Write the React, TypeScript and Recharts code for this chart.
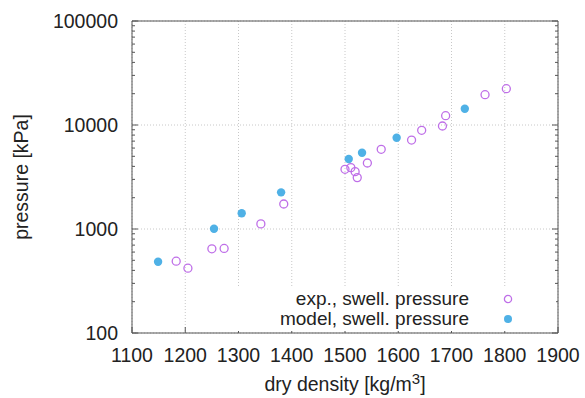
import React from 'react';
import { ScatterChart, Scatter, XAxis, YAxis, CartesianGrid, Legend } from 'recharts';

// measured swelling pressure
const expDensity = [1183, 1205, 1250, 1273, 1342, 1385, 1500, 1511, 1519, 1523, 1542, 1568, 1625, 1644, 1683, 1689, 1763, 1803];
const expPressure = [490, 420, 645, 650, 1120, 1740, 3750, 3890, 3560, 3120, 4310, 5840, 7170, 8890, 9780, 12280, 19560, 22340];

// model prediction
const modelDensity = [1149, 1254, 1306, 1380, 1507, 1532, 1597, 1725];
const modelPressure = [485, 1005, 1415, 2250, 4710, 5415, 7550, 14350];

const densityTicks = [1100, 1200, 1300, 1400, 1500, 1600, 1700, 1800, 1900];
const pressureTicks = [100, 1000, 10000, 100000];
const minorPressureTicks = [
  200, 300, 400, 500, 600, 700, 800, 900,
  2000, 3000, 4000, 5000, 6000, 7000, 8000, 9000,
  20000, 30000, 40000, 50000, 60000, 70000, 80000, 90000,
];

const allPressureTicks = [...pressureTicks, ...minorPressureTicks].sort((a, b) => a - b);

const expData = expDensity.map((d, i) => ({ density: d, pressure: expPressure[i] }));
const modelData = modelDensity.map((d, i) => ({ density: d, pressure: modelPressure[i] }));

const FONT = '"Liberation Sans", Arial, Helvetica, sans-serif';
const FS = 19.5;
const AXIS = '#555';
const PURPLE = '#bf6fe8';
const BLUE = '#4fb1e6';

const isMajor = (v: number) => pressureTicks.includes(v);

const LeftTick = (props: any) => {
  const { x, y, payload } = props;
  const major = isMajor(payload.value);
  return (
    <g>
      <line x1={x} x2={x + (major ? 6 : 3)} y1={y} y2={y} stroke={AXIS} />
      {major && (
        <text x={x - 14} y={y + 7} textAnchor="end" fontSize={FS} fill="#222" fontFamily={FONT}>
          {payload.value}
        </text>
      )}
    </g>
  );
};

const RightTick = (props: any) => {
  const { x, y, payload } = props;
  const major = isMajor(payload.value);
  return <line x1={x} x2={x - (major ? 6 : 3)} y1={y} y2={y} stroke={AXIS} />;
};

const BottomTick = (props: any) => {
  const { x, y, payload } = props;
  return (
    <g>
      <line x1={x} x2={x} y1={y} y2={y - 6} stroke={AXIS} />
      <text x={x} y={y + 29} textAnchor="middle" fontSize={FS} fill="#222" fontFamily={FONT}>
        {payload.value}
      </text>
    </g>
  );
};

const TopTick = (props: any) => {
  const { x, y } = props;
  return <line x1={x} x2={x} y1={y} y2={y + 6} stroke={AXIS} />;
};

const XLabel = () => (
  <text x={345} y={391} textAnchor="middle" fontSize={FS} fill="#222" fontFamily={FONT}>
    dry density [kg/m
    <tspan dy={-7} fontSize={15}>3</tspan>
    <tspan dy={7}>]</tspan>
  </text>
);

const YLabel = () => (
  <text
    x={21}
    y={177}
    transform="rotate(-90 21 177)"
    textAnchor="middle"
    dominantBaseline="central"
    fontSize={FS}
    fill="#222"
    fontFamily={FONT}
  >
    pressure [kPa]
  </text>
);

const keyRow = { position: 'absolute' as const, left: 0, width: 238, textAlign: 'right' as const, lineHeight: '18px', height: 18 };

const KeyBox = () => (
  <div
    style={{
      position: 'relative',
      width: 325,
      height: 43,
      background: '#fff',
      fontFamily: FONT,
      fontSize: 19,
      color: '#222',
    }}
  >
    <div style={{ ...keyRow, top: 2 }}>exp., swell. pressure</div>
    <div style={{ ...keyRow, top: 22 }}>model, swell. pressure</div>
    <svg style={{ position: 'absolute', left: 271, top: 5 }} width={12} height={12}>
      <circle cx={6} cy={6} r={3.6} fill="none" stroke={PURPLE} strokeWidth={1.3} />
    </svg>
    <svg style={{ position: 'absolute', left: 271, top: 25 }} width={12} height={12}>
      <circle cx={6} cy={6} r={4} fill={BLUE} />
    </svg>
  </div>
);

const OpenDot = (props: any) => (
  <circle cx={props.cx} cy={props.cy} r={4} fill="none" stroke={PURPLE} strokeWidth={1.3} />
);

const FilledDot = (props: any) => <circle cx={props.cx} cy={props.cy} r={4.2} fill={BLUE} />;

export default function App() {
  return (
    <div style={{ position: 'fixed', left: 0, top: 0, background: '#fff' }}>
      <ScatterChart width={585} height={398} margin={{ top: 1, right: 7, left: 72, bottom: 25 }}>
        <CartesianGrid
          stroke="#c8c8c8"
          strokeDasharray="1 2"
          horizontalValues={pressureTicks}
          verticalValues={densityTicks}
        />
        <XAxis
          dataKey="density"
          type="number"
          domain={[1100, 1900]}
          ticks={densityTicks}
          interval={0}
          height={40}
          tickSize={0}
          tickMargin={0}
          tick={<BottomTick />}
          stroke={AXIS}
          label={<XLabel />}
        />
        <XAxis
          xAxisId="top"
          orientation="top"
          type="number"
          domain={[1100, 1900]}
          ticks={densityTicks}
          interval={0}
          height={20}
          tickSize={0}
          tickMargin={0}
          tick={<TopTick />}
          stroke={AXIS}
        />
        <YAxis
          dataKey="pressure"
          type="number"
          scale="log"
          domain={[100, 100000]}
          allowDataOverflow
          ticks={allPressureTicks}
          interval={0}
          width={60}
          tickSize={0}
          tickMargin={0}
          tick={<LeftTick />}
          stroke={AXIS}
          label={<YLabel />}
        />
        <YAxis
          yAxisId="right"
          orientation="right"
          type="number"
          scale="log"
          domain={[100, 100000]}
          allowDataOverflow
          ticks={allPressureTicks}
          interval={0}
          width={20}
          tickSize={0}
          tickMargin={0}
          tick={<RightTick />}
          stroke={AXIS}
        />
        <Scatter data={expData} shape={<OpenDot />} isAnimationActive={false} />
        <Scatter data={modelData} shape={<FilledDot />} isAnimationActive={false} />
        <Legend
          layout="vertical"
          align="center"
          verticalAlign="middle"
          content={<KeyBox />}
          wrapperStyle={{ left: 231, top: 288, width: 325, height: 43 }}
        />
      </ScatterChart>
    </div>
  );
}
